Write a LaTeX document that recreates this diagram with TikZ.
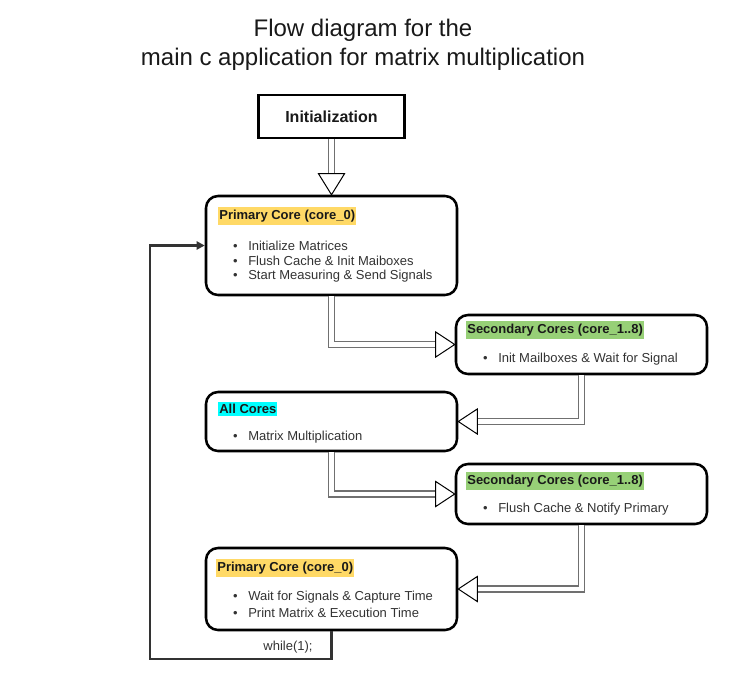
\documentclass[tikz,border=0pt]{standalone}
\usepackage{fontspec}
\setmainfont{Liberation Sans}
\usetikzlibrary{arrows.meta,calc}
\definecolor{txt}{HTML}{333333}
\definecolor{hlyellow}{HTML}{FFD966}
\definecolor{hlgreen}{HTML}{97D077}
\definecolor{hlcyan}{HTML}{00FFFF}
\definecolor{shaftgray}{HTML}{707070}
\tikzset{
  box/.style={draw=black, line width=1.9pt, rounded corners=9pt, fill=white, inner sep=0pt, minimum width=188.25pt},
  hl/.style={anchor=west, inner xsep=0.8pt, inner ysep=2pt, font=\fontsize{9.75}{11.5}\selectfont\bfseries, text=black!90},
  item/.style={anchor=west, inner sep=0pt, font=\fontsize{9.75}{11.5}\selectfont, text=txt},
  shaft/.style={draw=shaftgray, line width=1.1pt, double=white, double distance=3.2pt},
  head/.style={draw=black, line width=0.75pt, fill=white, line join=miter},
  backline/.style={draw=txt, line width=2pt, -{Triangle[length=6pt,width=6pt]}}
}
\newcommand\bul[1]{\llap{\textbullet\hspace{8pt}}#1}
\begin{document}
\begin{tikzpicture}[x=0.75pt,y=-0.75pt]
\useasboundingbox (0,0) rectangle (732,690);

% title
\node[align=center, font=\fontsize{18}{21.75}\selectfont, text=black!90] (title) at (363,45)
  {Flow diagram for the\\main c application for matrix multiplication};

% boxes
\node[draw=black, line width=2.2pt, minimum width=109.5pt, minimum height=32.25pt,
      font=\fontsize{12}{14}\selectfont\bfseries, text=black!90] (init) at (331.5,116.5) {Initialization};
\node[box, minimum height=74.25pt] (p1) at (331.5,245.5) {};
\node[box, minimum height=44.25pt] (s1) at (581.5,344.5) {};
\node[box, minimum height=44.25pt] (ac) at (331.5,421.5) {};
\node[box, minimum height=45pt] (s2) at (581.5,494) {};
\node[box, minimum height=61.5pt] (p2) at (331.5,589) {};

% box contents
\node[hl, fill=hlyellow] (p1t) at (218,216) {Primary Core (core\_0)};
\node[item] (p1a) at (248,245.5) {\bul{Initialize Matrices}};
\node[item] (p1b) at (248,261) {\bul{Flush Cache \& Init Maiboxes}};
\node[item] (p1c) at (248,276.5) {\bul{Start Measuring \& Send Signals}};

\node[hl, fill=hlgreen] (s1t) at (466,330) {Secondary Cores (core\_1..8)};
\node[item] (s1a) at (498,359) {\bul{Init Mailboxes \& Wait for Signal}};

\node[hl, fill=hlcyan] (act) at (218,409) {All Cores};
\node[item] (aca) at (248,437) {\bul{Matrix Multiplication}};

\node[hl, fill=hlgreen] (s2t) at (466,481) {Secondary Cores (core\_1..8)};
\node[item] (s2a) at (498,509) {\bul{Flush Cache \& Notify Primary}};

\node[hl, fill=hlyellow] (p2t) at (216,568) {Primary Core (core\_0)};
\node[item] (p2a) at (248,597.5) {\bul{Wait for Signals \& Capture Time}};
\node[item] (p2b) at (248,613) {\bul{Print Matrix \& Execution Time}};

% arrows
\draw[shaft] (init.south) -- ($(p1.north)+(0,-21)$);
\draw[head] (p1.north) -- ++(-13,-21) -- ++(26,0) -- cycle;

\draw[shaft] (p1.south) |- ($(s1.west)+(-19,0)$);
\draw[head] (s1.west) -- ++(-19,-12.5) -- ++(0,25) -- cycle;

\draw[shaft] (s1.south) |- ($(ac.east)+(19,0)$);
\draw[head] (ac.east) -- ++(19,-12.5) -- ++(0,25) -- cycle;

\draw[shaft] (ac.south) |- ($(s2.west)+(-19,0)$);
\draw[head] (s2.west) -- ++(-19,-12.5) -- ++(0,25) -- cycle;

\draw[shaft] (s2.south) |- ($(p2.east)+(19,0)$);
\draw[head] (p2.east) -- ++(19,-12.5) -- ++(0,25) -- cycle;

% loop back
\coordinate (lc) at (150,659);
\draw[backline] (p2.south) |- (lc) |- (p1.west);
\node[item, anchor=center] (wl) at (288,647) {while(1);};
\end{tikzpicture}
\end{document}
